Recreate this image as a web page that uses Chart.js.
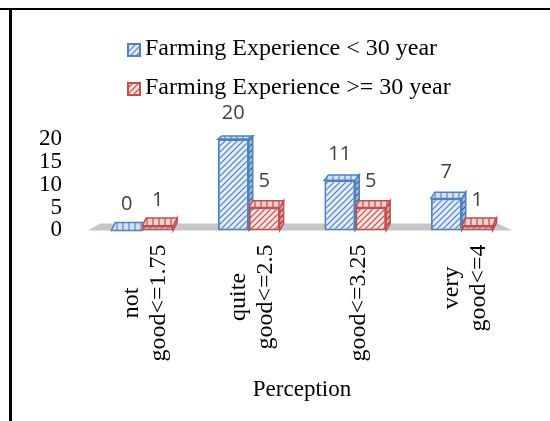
<!DOCTYPE html>
<html>
<head>
<meta charset="utf-8">
<script src="https://cdn.jsdelivr.net/npm/chart.js@4.4.1/dist/chart.umd.min.js"></script>
<style>
html,body{margin:0;padding:0;background:#fff;}
#wrap{position:relative;width:550px;height:421px;overflow:hidden;background:#fff;}
#c{position:absolute;left:0;top:0;}
#topline{position:absolute;left:0;top:8px;width:550px;height:2px;background:#000;}
#leftline{position:absolute;left:9px;top:8px;width:3px;height:413px;background:#000;}
</style>
</head>
<body>
<div id="wrap">
  <canvas id="c" width="550" height="421"></canvas>
  <div id="topline"></div>
  <div id="leftline"></div>
</div>
<script>
// ---- data ----
const categories = [["not", "good<=1.75"], ["quite", "good<=2.5"], "good<=3.25", ["very", "good<=4"]];
const seriesNames = ["Farming Experience < 30 year", "Farming Experience >= 30 year"];
const under30 = [0, 20, 11, 7];
const over30 = [1, 5, 5, 1];
const yTicks = [0, 5, 10, 15, 20];
const axisTitle = "Perception";

// ---- styles ----
const canvas = document.getElementById('c');
const ctx = canvas.getContext('2d');
const SERIF = '"Liberation Serif", "Times New Roman", serif';
const SANS = '"Open Sans", "Liberation Sans", sans-serif';

function makePattern(bg, fg, kind) {
  const s = 6;
  const t = document.createElement('canvas');
  t.width = s; t.height = s;
  const g = t.getContext('2d');
  g.fillStyle = bg; g.fillRect(0, 0, s, s);
  g.strokeStyle = fg; g.lineWidth = 1.2;
  g.beginPath();
  if (kind === 'diag') {
    g.moveTo(0, s); g.lineTo(s, 0);
    g.moveTo(-1, 1); g.lineTo(1, -1);
    g.moveTo(s - 1, s + 1); g.lineTo(s + 1, s - 1);
  } else {
    g.moveTo(s / 2, 0); g.lineTo(s / 2, s);
  }
  g.stroke();
  return ctx.createPattern(t, 'repeat');
}
const blue = '#4f81bd', red = '#c0504d';
const styles = [
  { border: blue, front: makePattern('#e1eaf6', blue, 'diag'), top: makePattern('#d3e0f1', '#5b86bd', 'vert'), side: makePattern('#9fb8dc', '#2f5f99', 'diag') },
  { border: red, front: makePattern('#f7e0df', red, 'diag'), top: makePattern('#f0d0cf', '#b2504d', 'vert'), side: makePattern('#dfa3a1', '#8f3836', 'diag') }
];

const threeD = {
  id: 'threeD',
  beforeDatasetsDraw(chart) {
    const c = chart.ctx, a = chart.chartArea, ys = chart.scales.y;
    const y0 = ys.getPixelForValue(0);
    // floor
    c.save();
    c.fillStyle = '#c6c6c6';
    c.beginPath();
    c.moveTo(a.left - 1, y0);
    c.lineTo(a.left + 11, y0 - 7);
    c.lineTo(a.right - 17, y0 - 7);
    c.lineTo(a.right - 3, y0);
    c.closePath();
    c.fill();
    // top and side faces of bars
    chart.data.datasets.forEach((ds, di) => {
      const st = styles[di];
      chart.getDatasetMeta(di).data.forEach((el) => {
        const p = el.getProps(['x', 'y', 'base', 'width'], true);
        const L = p.x - p.width / 2, R = p.x + p.width / 2, T = p.y, B = p.base;
        const dy = 3 + 5 * (T - a.top) / (a.bottom - a.top);
        const dx = 4;
        c.lineWidth = 1.5;
        c.strokeStyle = st.border;
        // side
        c.fillStyle = st.side;
        c.beginPath();
        c.moveTo(R, T); c.lineTo(R + dx, T - dy); c.lineTo(R + dx, B - dy); c.lineTo(R, B);
        c.closePath(); c.fill(); c.stroke();
        // top
        c.fillStyle = st.top;
        c.beginPath();
        c.moveTo(L, T); c.lineTo(R, T); c.lineTo(R + dx, T - dy); c.lineTo(L + dx, T - dy);
        c.closePath(); c.fill(); c.stroke();
      });
    });
    c.restore();
  },
  afterDatasetsDraw(chart) {
    const c = chart.ctx;
    c.save();
    c.font = '20px ' + SANS;
    c.fillStyle = '#404040';
    c.textAlign = 'center';
    c.textBaseline = 'middle';
    chart.data.datasets.forEach((ds, di) => {
      chart.getDatasetMeta(di).data.forEach((el, i) => {
        const p = el.getProps(['x', 'y'], true);
        c.fillText(String(ds.data[i]), p.x, p.y - 26);
      });
    });
    c.restore();
  },
  afterDraw(chart) {
    const c = chart.ctx, a = chart.chartArea, xs = chart.scales.x;
    c.save();
    // category labels (rotated, lines centred on each other)
    c.font = '24px ' + SERIF;
    c.fillStyle = '#000';
    c.textAlign = 'center';
    c.textBaseline = 'middle';
    chart.data.labels.forEach((lab, i) => {
      const lines = Array.isArray(lab) ? lab : [lab];
      const maxW = Math.max(...lines.map(l => c.measureText(l).width));
      const cy = a.bottom + 14 + maxW / 2;
      const cx = xs.getPixelForValue(i) + 3;
      lines.forEach((ln, j) => {
        const lx = cx + (j - (lines.length - 1) / 2) * 27;
        c.save();
        c.translate(lx, cy);
        c.rotate(-Math.PI / 2);
        c.fillText(ln, 0, 0);
        c.restore();
      });
    });
    // legend (stacked)
    c.textAlign = 'left';
    c.textBaseline = 'alphabetic';
    chart.data.datasets.forEach((ds, di) => {
      const st = styles[di];
      const by = 43 + di * 39;
      c.fillStyle = st.front;
      c.fillRect(127, by, 14, 14);
      c.strokeStyle = st.border;
      c.lineWidth = 2;
      c.strokeRect(128, by + 1, 12, 12);
      c.fillStyle = '#000';
      c.fillText(ds.label, 145, by + 12);
    });
    c.restore();
  }
};

new Chart(ctx, {
  type: 'bar',
  data: {
    labels: categories,
    datasets: [
      { label: seriesNames[0], data: under30, backgroundColor: styles[0].front, borderColor: blue, borderWidth: 2, borderSkipped: false },
      { label: seriesNames[1], data: over30, backgroundColor: styles[1].front, borderColor: red, borderWidth: 2, borderSkipped: false }
    ]
  },
  options: {
    responsive: false,
    animation: false,
    events: [],
    layout: { padding: { left: 12, right: 35, top: 139, bottom: 17 } },
    datasets: { bar: { categoryPercentage: 0.58, barPercentage: 1.0 } },
    plugins: { legend: { display: false }, tooltip: { enabled: false } },
    scales: {
      x: {
        grid: { display: false, drawTicks: false },
        border: { display: false },
        ticks: { display: false },
        title: { display: true, text: axisTitle, color: '#000', font: { family: SERIF, size: 23 }, padding: { top: 146, bottom: 0 } }
      },
      y: {
        min: 0, max: 20,
        grid: { display: false, drawTicks: false },
        border: { display: false },
        afterBuildTicks: (s) => { s.ticks = yTicks.map(v => ({ value: v })); },
        ticks: { color: '#000', padding: 27, autoSkip: false, font: { family: SERIF, size: 23 } }
      }
    }
  },
  plugins: [threeD]
});
</script>
</body>
</html>
